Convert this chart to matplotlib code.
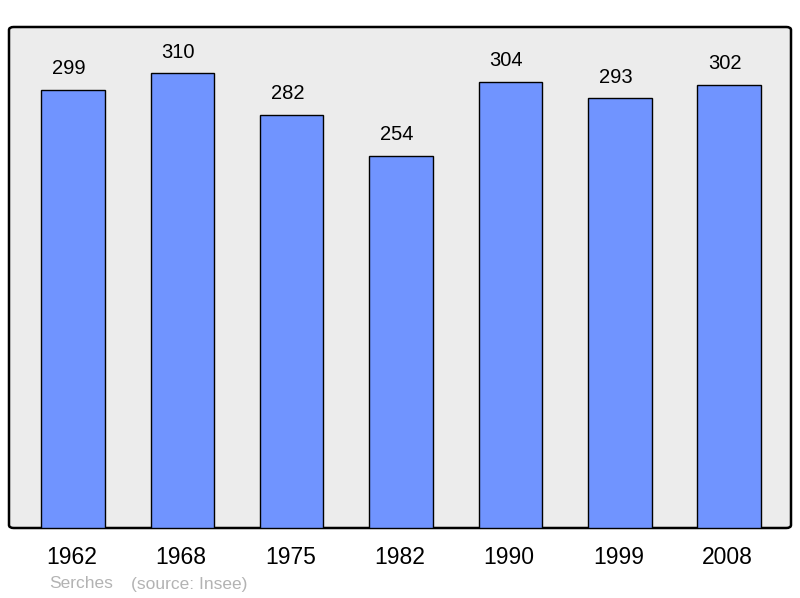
import matplotlib.pyplot as plt
import matplotlib.transforms as mtransforms
from matplotlib.patches import FancyBboxPatch

years = ['1962', '1968', '1975', '1982', '1990', '1999', '2008']
population = [299, 310, 282, 254, 304, 293, 302]
town = 'Serches'
source = '(source: Insee)'

plt.rcParams['font.family'] = ['Liberation Sans', 'DejaVu Sans']

fig = plt.figure(figsize=(8, 5.98), dpi=100)
ax = fig.add_axes([9 / 800, 70 / 598, 782 / 800, 501 / 598])
ax.set_facecolor('none')

# rounded grey frame behind the bars
frame = FancyBboxPatch((0, 0), 1, 1, boxstyle='round,pad=0,rounding_size=0.006',
                       transform=ax.transAxes, facecolor='#ececec',
                       edgecolor='black', linewidth=1.8, zorder=0, clip_on=False)
ax.add_patch(frame)

x = list(range(len(years)))
bars = ax.bar(x, population, width=0.58, color='#7094ff', edgecolor='black',
              linewidth=1.0, zorder=2)

for xi, v in zip(x, population):
    ax.annotate(str(v), (xi, v), xytext=(-3, 8.5), textcoords='offset points',
                ha='center', va='bottom', fontsize=14.5)

ax.set_xlim(-0.585, 6.565)
ax.set_ylim(0, 341.7)
ax.set_xticks(x)
ax.set_xticklabels(years, fontsize=16.5)
ax.tick_params(axis='x', length=0, pad=13)
shift = mtransforms.ScaledTranslation(-1.5 / 100, 0, fig.dpi_scale_trans)
for lab in ax.get_xticklabels():
    lab.set_transform(lab.get_transform() + shift)
ax.set_yticks([])
for s in ax.spines.values():
    s.set_visible(False)

fig.text(49 / 800, 1 - 584 / 598, town, color='#b3b3b3', fontsize=12.5,
         ha='left', va='center')
fig.text(131 / 800, 1 - 584 / 598, source, color='#b3b3b3', fontsize=12.5,
         ha='left', va='center')

fig.savefig('out.png', dpi=100)
